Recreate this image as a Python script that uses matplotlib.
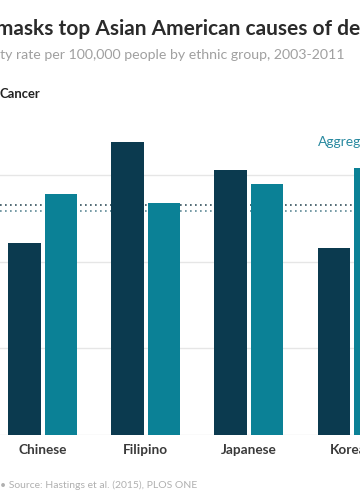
import matplotlib
matplotlib.use("Agg")
import matplotlib.pyplot as plt

plt.rcParams['font.family'] = ['Lato', 'DejaVu Sans']

groups = ["Chinese", "Filipino", "Japanese", "Korean"]
series_a = [111, 169, 153, 108]   # dark bars
series_b = [139, 134, 145, 154]   # teal bars
aggregate_a = 132.8
aggregate_b = 129.0
yticks = [0, 50, 100, 150]

title = "Aggregated data masks top Asian American causes of death"
subtitle = "Mortality rate per 100,000 people by ethnic group, 2003-2011"
panel = "Cancer"
source = "• Source: Hastings et al. (2015), PLOS ONE"
agg_label = "Aggregated"

DARK = "#0b3a4f"
TEAL = "#0b8196"

W, H = 360, 504
fig = plt.figure(figsize=(W / 100, H / 100), dpi=100)

def fx(px):
    return px / W

def fy(py):
    return 1 - py / H

unit = 86.7 / 50
base = 435
top_val = 180
ax = fig.add_axes([0, fy(base), 1, (top_val * unit) / H])
ax.set_ylim(0, top_val)
spacing = 103.2
c0 = 42.5
ax.set_xlim(-c0 / spacing, (W - c0) / spacing)

bw = 32.5 / spacing
gap = 4 / spacing
xs = list(range(len(groups)))
ax.bar([x - gap / 2 - bw / 2 for x in xs], series_a, width=bw, color=DARK, zorder=3)
ax.bar([x + gap / 2 + bw / 2 for x in xs], series_b, width=bw, color=TEAL, zorder=3)

for t in yticks:
    ax.axhline(t, color="#e6e6e6", lw=1, zorder=1)
ax.axhline(aggregate_a, color="#34505c", lw=1.2, ls=(0, (1, 2)), zorder=2)
ax.axhline(aggregate_b, color="#5f8a96", lw=1.2, ls=(0, (1, 2)), zorder=2)

ax.set_axis_off()

for x, g in zip(xs, groups):
    fig.text(fx(c0 + spacing * x), fy(454), g, ha="center", va="baseline",
             fontsize=9.8, fontweight="bold", color="#3a3a3a")

renderer = fig.canvas.get_renderer()

def place(full, prefix, start_px, base_px, **kw):
    tmp = fig.text(0, 0, prefix, **kw)
    wpx = tmp.get_window_extent(renderer).width
    tmp.remove()
    fig.text(fx(start_px - wpx), fy(base_px), full, va="baseline", ha="left", **kw)

place(title, "Aggregated data ", -4, 35, fontsize=15, fontweight="bold", color="#2b2b2b")
place(subtitle, "Mortali", 0, 59, fontsize=10.2, color="#a0a0a0")
fig.text(fx(-1), fy(98), panel, va="baseline", fontsize=9.4, fontweight="bold", color="#222222")
fig.text(fx(0), fy(488), source, va="baseline", fontsize=7.5, color="#b0b0b0")
fig.text(fx(318), fy(146), agg_label, va="baseline", fontsize=10, color="#2a8aa0")

fig.savefig("out.png", dpi=100)
